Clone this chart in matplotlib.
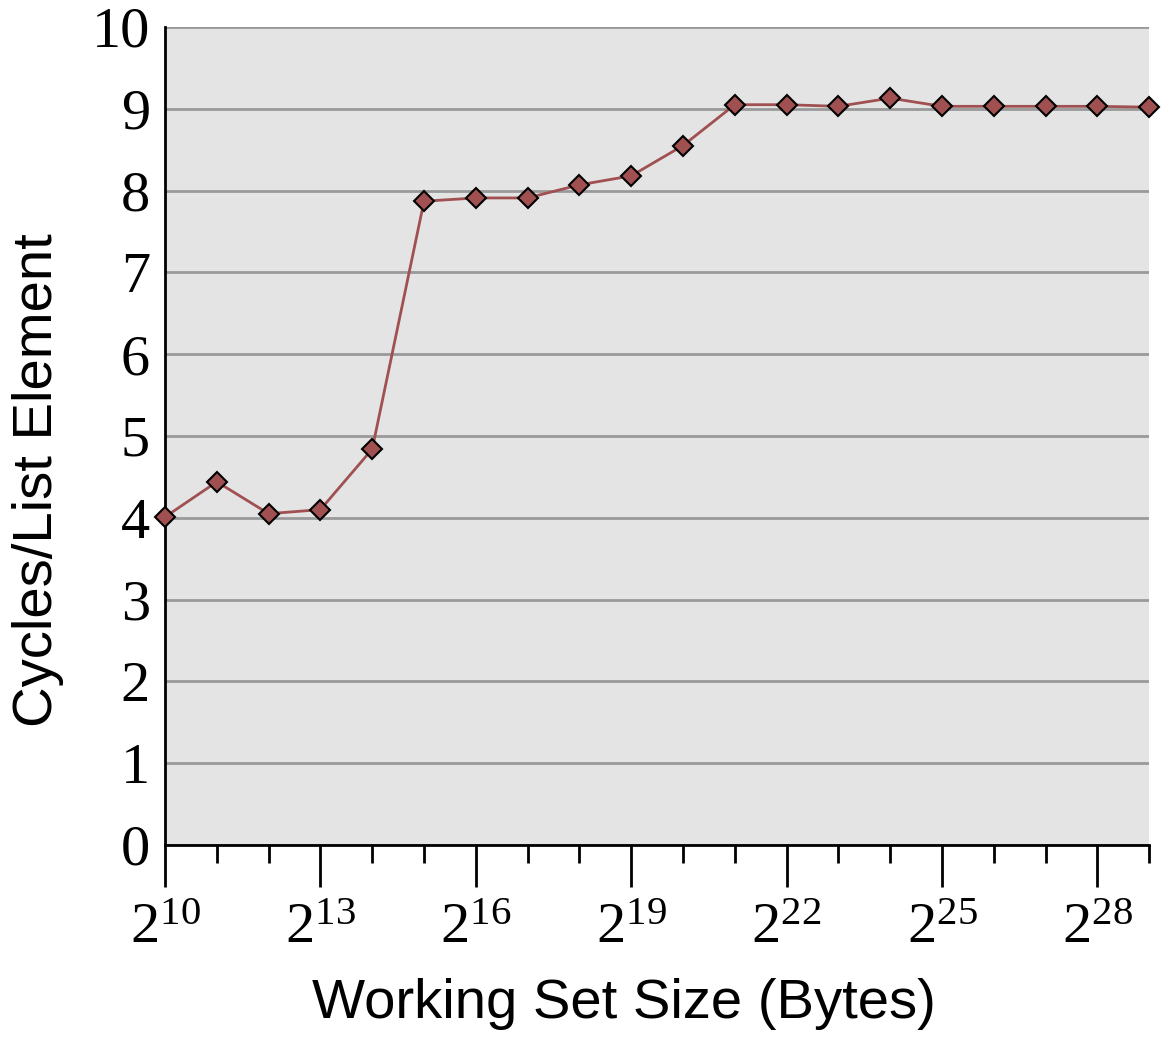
import numpy as np
import matplotlib.pyplot as plt
from matplotlib.ticker import FixedLocator, FuncFormatter

plt.rcParams['mathtext.fontset'] = 'custom'
plt.rcParams['mathtext.rm'] = 'Liberation Serif'
plt.rcParams['mathtext.it'] = 'Liberation Serif:italic'

# log2 of working set size (bytes) and cycles per list element
exponents = [10, 11, 12, 13, 14, 15, 16, 17, 18, 19,
             20, 21, 22, 23, 24, 25, 26, 27, 28, 29]
cycles = [4.01, 4.44, 4.05, 4.10, 4.84, 7.87, 7.91, 7.91, 8.07, 8.18,
          8.55, 9.05, 9.05, 9.03, 9.13, 9.03, 9.03, 9.03, 9.03, 9.02]
major_exps = [10, 13, 16, 19, 22, 25, 28]
y_ticks = list(range(0, 11))

fig = plt.figure(figsize=(11.64, 10.54), dpi=100)
ax = fig.add_axes([0.1418, 0.1983, 0.8454, 0.7761])
ax.set_facecolor('#e4e4e4')

ax.plot(exponents, cycles, color='#a05050', lw=2, marker='D', ms=10,
        markerfacecolor='#a05050', markeredgecolor='black', markeredgewidth=1.5,
        zorder=3, clip_on=False)

ax.set_xlim(10, 29)
ax.set_ylim(0, 10)

ax.xaxis.set_major_locator(FixedLocator(major_exps))
ax.xaxis.set_minor_locator(FixedLocator(exponents))
ax.xaxis.set_major_formatter(FuncFormatter(lambda v, p: r'$\mathrm{2}^{\mathrm{%d}}$' % v))
ax.set_yticks(y_ticks)
ax.yaxis.grid(True, color='#999999', lw=2)
ax.set_axisbelow(True)

for s in ['top', 'right']:
    ax.spines[s].set_visible(False)
for s in ['left', 'bottom']:
    ax.spines[s].set_linewidth(2)

ax.tick_params(axis='x', which='major', length=30, width=2, direction='out',
               labelsize=42, pad=8)
ax.tick_params(axis='x', which='minor', length=13, width=2, direction='out')
ax.tick_params(axis='y', length=0, labelsize=42, pad=11)
for lab in ax.get_yticklabels():
    lab.set_family('Liberation Serif')

ax.set_xlabel('Working Set Size (Bytes)', fontsize=40.5,
              family='Liberation Sans')
ax.set_ylabel('Cycles/List Element', fontsize=40.5,
              family='Liberation Sans')
# labels sit a bit off the axes centre in the original
ax.xaxis.set_label_coords(0.466, -0.162)
ax.yaxis.set_label_coords(-0.103, 0.446)

fig.savefig('out.png', dpi=100)
